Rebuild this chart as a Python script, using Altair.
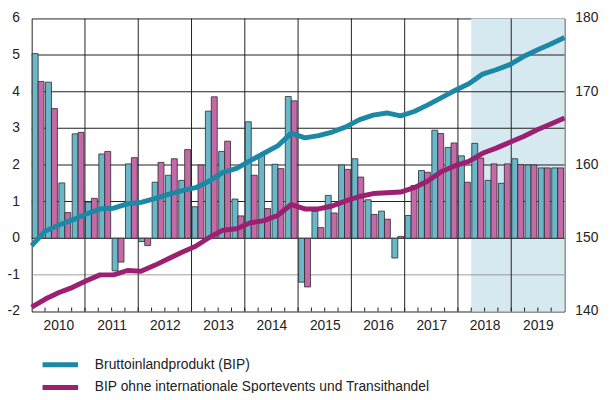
import altair as alt
import pandas as pd

years = list(range(2010, 2020))
quarters = list(range(40))  # quarter index 0 = 2010 Q1

bip_growth = [5.04, 4.26, 1.51, 2.85, 0.99, 2.30, -0.89, 2.03,
              -0.09, 1.53, 1.72, 1.58, 0.86, 3.47, 2.37, 1.07,
              3.18, 2.28, 2.02, 3.87, -1.20, 0.73, 1.17, 2.00,
              2.17, 1.05, 0.74, -0.54, 0.62, 1.85, 2.95, 2.48,
              2.25, 2.59, 1.58, 1.50, 2.17, 2.00, 1.92, 1.92]
adj_growth = [4.28, 3.54, 0.70, 2.89, 1.09, 2.37, -0.65, 2.20,
              -0.20, 2.07, 2.17, 2.42, 2.00, 3.86, 2.65, 0.61,
              1.72, 0.81, 1.90, 3.75, -1.33, 0.29, 0.69, 1.88,
              1.67, 0.65, 0.52, 0.05, 1.44, 1.80, 2.86, 2.60,
              1.53, 2.19, 2.03, 2.03, 2.01, 2.00, 1.92, 1.92]
bip_level = [149.0, 151.0, 151.8, 152.5, 153.3, 154.0, 154.1, 154.7,
             154.9, 155.4, 156.0, 156.5, 156.9, 157.8, 159.0, 159.55,
             160.6, 161.6, 162.6, 164.35, 163.7, 164.0, 164.5, 165.2,
             166.2, 166.8, 167.1, 166.7, 167.3, 168.2, 169.2, 170.2,
             171.1, 172.4, 173.0, 173.7, 174.8, 175.7, 176.5, 177.4]
adj_level = [140.6, 141.7, 142.6, 143.3, 144.2, 145.0, 145.0, 145.6,
             145.5, 146.3, 147.2, 148.1, 148.9, 150.1, 151.1, 151.3,
             152.1, 152.4, 153.1, 154.6, 154.0, 154.0, 154.4, 155.1,
             155.7, 156.1, 156.2, 156.3, 156.9, 157.8, 159.1, 159.9,
             160.5, 161.6, 162.3, 163.1, 163.9, 164.8, 165.6, 166.4]

series_names = ["Bruttoinlandprodukt (BIP)",
                "BIP ohne internationale Sportevents und Transithandel"]
bar_colors = ["#69b7c9", "#c56aa8"]
line_colors = ["#1b88a6", "#9c1f72"]

forecast_start = [33]  # quarter index where the shaded forecast begins
forecast_end = [40]
year_bounds = [4, 8, 12, 16, 20, 24, 28, 32, 36]
quarter_ticks = list(range(1, 40))
left_ticks = [-2, -1, 0, 1, 2, 3, 4, 5, 6]
right_ticks = [140, 150, 160, 170, 180]

# right axis (index) is mapped onto the left axis (percent): 150 -> 0, 10 pts -> 2
R_BASE, R_PER_UNIT = 150.0, 5.0

W, H = 540, 297
FONT = "Liberation Sans"
PX = 8.0 / H  # one pixel in left-axis units (gridline thickness)

bars_df = pd.DataFrame({
    "q": quarters * 2,
    "value": bip_growth + adj_growth,
    "series": [series_names[0]] * 40 + [series_names[1]] * 40,
    "slot": [0] * 40 + [1] * 40,
})
lines_df = pd.DataFrame({
    "q": quarters * 2,
    "level": bip_level + adj_level,
    "series": [series_names[0]] * 40 + [series_names[1]] * 40,
})
ticks_df = pd.DataFrame({"l": left_ticks})
legend_df = pd.DataFrame({"series": series_names})

xscale = alt.Scale(domain=[0, 40], nice=False, zero=False)
yscale = alt.Scale(domain=[-2, 6], nice=False, zero=False)

shade = alt.Chart(pd.DataFrame({"s": forecast_start, "e": forecast_end})).mark_rect(
    color="#d6e9f0"
).encode(
    x=alt.X("s:Q", scale=xscale,
            axis=alt.Axis(values=[2, 6, 10, 14, 18, 22, 26, 30, 34, 38],
                          labelExpr="'' + (2010 + floor(datum.value / 4))",
                          ticks=False, domain=False, grid=False, title=None,
                          labelFont=FONT, labelFontSize=14, labelColor="#222",
                          labelPadding=7, labelOverlap=False)),
    x2="e:Q",
    y=alt.value(0), y2=alt.value(H),
)

# horizontal gridlines as 1px-tall rects at every inner tick of the left axis
grid_base = alt.Chart(ticks_df).transform_filter(
    "datum.l > -2 && datum.l < 6"
).transform_calculate(
    g0="datum.l - " + str(PX / 2),
    g1="datum.l + " + str(PX / 2),
)
hgrid = grid_base.transform_filter("datum.l >= 0").mark_rect(color="#222222").encode(
    y=alt.Y("g0:Q", scale=yscale, axis=None),
    y2="g1:Q",
    x=alt.value(0), x2=alt.value(W),
)
hgrid_minor = grid_base.transform_filter("datum.l < 0").mark_rect(color="#808080").encode(
    y=alt.Y("g0:Q", scale=yscale, axis=None),
    y2="g1:Q",
    x=alt.value(0), x2=alt.value(W),
)

vgrid = alt.Chart(pd.DataFrame({"b": year_bounds})).mark_rule(
    color="#222222", strokeWidth=1
).encode(
    x=alt.X("b:Q", scale=xscale),
    y=alt.value(0), y2=alt.value(H),
)

qticks = alt.Chart(pd.DataFrame({"t": quarter_ticks})).mark_rule(
    color="#222222", strokeWidth=1
).encode(
    x=alt.X("t:Q", scale=xscale),
    y=alt.value(H - 4), y2=alt.value(H),
)

bars = alt.Chart(bars_df).transform_calculate(
    x0="datum.q + 0.04 + datum.slot * 0.445",
    x1="datum.q + 0.04 + datum.slot * 0.445 + 0.445",
).mark_rect(stroke="#2b2b2b", strokeWidth=0.8).encode(
    x=alt.X("x0:Q", scale=xscale),
    x2="x1:Q",
    y=alt.Y("value:Q", scale=yscale, axis=None),
    y2=alt.datum(0),
    fill=alt.Fill("series:N", scale=alt.Scale(domain=series_names, range=bar_colors),
                  legend=None),
)

# index lines: spread from left edge to right edge, mapped to the right-hand axis
lines = alt.Chart(lines_df).transform_calculate(
    xl="datum.q * 40 / 39",
    yl=f"(datum.level - {R_BASE}) / {R_PER_UNIT}",
).mark_line(strokeWidth=5, strokeCap="butt", strokeJoin="round").encode(
    x=alt.X("xl:Q", scale=xscale),
    y=alt.Y("yl:Q", scale=yscale, axis=None),
    stroke=alt.Stroke("series:N",
                      scale=alt.Scale(domain=series_names, range=line_colors),
                      legend=None),
    detail="series:N",
)

# left-hand axis labels (percent scale)
left_axis = alt.Chart(ticks_df).mark_text(
    align="right", baseline="middle", font=FONT, fontSize=14, color="#222", dx=-12
).encode(
    y=alt.Y("l:Q", scale=yscale, axis=None),
    x=alt.value(0),
    text=alt.Text("l:N"),
)

# right-hand axis labels (index scale)
right_axis = alt.Chart(pd.DataFrame({"r": right_ticks})).transform_calculate(
    ry=f"(datum.r - {R_BASE}) / {R_PER_UNIT}",
).mark_text(align="left", baseline="middle", font=FONT, fontSize=14,
            color="#222", dx=11).encode(
    y=alt.Y("ry:Q", scale=yscale, axis=None),
    x=alt.value(W),
    text="r:Q",
)

# manual legend below the plot
def legend_row(i, ypos):
    src = alt.Chart(legend_df).transform_filter(
        alt.datum.series == series_names[i])
    sym = src.mark_rule(strokeWidth=5, color=line_colors[i]).encode(
        y=alt.value(ypos), x=alt.value(11), x2=alt.value(47))
    txt = src.mark_text(align="left", baseline="middle", font=FONT, fontSize=14,
                        color="#222").encode(
        y=alt.value(ypos), x=alt.value(64), text="series:N")
    return [sym, txt]

legend_layers = legend_row(0, 351) + legend_row(1, 374)

chart = alt.layer(
    shade, hgrid, hgrid_minor, vgrid, qticks, bars, lines, left_axis, right_axis,
    *legend_layers
).resolve_scale(
    fill="independent", stroke="independent"
).properties(
    width=W, height=H,
    autosize=alt.AutoSizeParams(type="none"),
    padding={"left": 24, "top": 8, "right": 38, "bottom": 80},
).configure_view(
    stroke="#222222", strokeWidth=1
)

chart.save("out.html", embed_options={"renderer": "svg", "actions": False})
